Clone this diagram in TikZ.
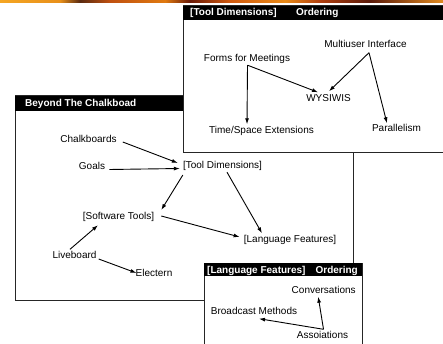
\documentclass[tikz,border=0pt]{standalone}
\usepackage{fontspec}
\setmainfont{Liberation Sans}
\usetikzlibrary{arrows.meta,calc}
\begin{document}
\begin{tikzpicture}[x=1pt,y=-1pt,
  lbl/.style={inner sep=0pt,text height=7pt,text depth=2pt,font=\fontsize{10}{12}\selectfont},
  hdr/.style={inner sep=0pt,text height=7pt,text depth=2pt,anchor=west,text=white,font=\fontsize{10}{12}\selectfont\bfseries},
  frame/.style={draw=black!85,line width=1pt,fill=white},
  bar/.style={fill=black},
  link/.style={draw=black,line width=0.9pt,-{Latex[length=6pt,width=4pt]}}]
\useasboundingbox[fill=white] (0,0) rectangle (443,344);

% fiery strip along the top edge
\shade[left color={rgb,255:red,245;green,166;blue,35},right color={rgb,255:red,232;green,144;blue,26}] (0,0) rectangle (60,3);
\shade[left color={rgb,255:red,232;green,144;blue,26},right color={rgb,255:red,90;green,42;blue,16}] (60,0) rectangle (80,3);
\shade[left color={rgb,255:red,90;green,42;blue,16},right color={rgb,255:red,192;green,80;blue,16}] (80,0) rectangle (110,3);
\shade[left color={rgb,255:red,192;green,80;blue,16},right color={rgb,255:red,224;green,122;blue,16}] (110,0) rectangle (165,3);
\shade[left color={rgb,255:red,224;green,122;blue,16},right color={rgb,255:red,106;green,26;blue,8}] (165,0) rectangle (190,3);
\shade[left color={rgb,255:red,106;green,26;blue,8},right color={rgb,255:red,208;green,90;blue,16}] (190,0) rectangle (230,3);
\shade[left color={rgb,255:red,208;green,90;blue,16},right color={rgb,255:red,232;green,138;blue,24}] (230,0) rectangle (285,3);
\shade[left color={rgb,255:red,232;green,138;blue,24},right color={rgb,255:red,176;green,64;blue,16}] (285,0) rectangle (320,3);
\shade[left color={rgb,255:red,176;green,64;blue,16},right color={rgb,255:red,90;green,26;blue,10}] (320,0) rectangle (370,3);
\shade[left color={rgb,255:red,90;green,26;blue,10},right color={rgb,255:red,224;green,138;blue,32}] (370,0) rectangle (443,3);

% ---- Beyond The Chalkboad ----
\draw[frame] (15,96) rectangle (353,300);
\fill[bar] (15,96) rectangle (183,111);
\node[hdr] (bhead) at (25,104) {Beyond The Chalkboad};

\node[lbl] (ch) at (88.5,140) {Chalkboards};
\node[lbl] (go) at (92,167) {Goals};
\node[lbl] (td) at (222.5,166) {[Tool Dimensions]};
\node[lbl] (sw) at (118.5,217) {[Software Tools]};
\node[lbl] (lf) at (290,240) {[Language Features]};
\node[lbl] (lv) at (74.5,256) {Liveboard};
\node[lbl] (el) at (154,274) {Electern};

\draw[link] ($(ch.east)+(6,2)$) -- ($(td.west)+(-5,-3)$);
\draw[link] ($(go.east)+(4,2.5)$) -- ($(td.west)+(-3,2.5)$);
\draw[link] ($(td.west)+(0,9)$) -- ($(sw.east)+(7,-7)$);
\draw[link] ($(td.south)+(4.5,1.5)$) -- ($(lf.north)+(-28,-2)$);
\draw[link] ($(sw.east)+(7,-1)$) -- ($(lf.west)+(-4,-3)$);
\draw[link] ($(lv.north)+(-4.5,-2)$) -- ($(sw.south)+(-20.5,3.5)$);
\draw[link] ($(lv.east)+(2,3)$) -- ($(el.west)+(1,-1)$);

% ---- [Tool Dimensions] Ordering ----
\draw[frame] (183,6) rectangle (452,153);
\fill[bar] (183,6) rectangle (452,20);
\node[hdr] (thead) at (190,13.5) {[Tool Dimensions]};
\node[hdr] (tord) at (296,13.5) {Ordering};

\node[lbl] (mi) at (365.5,45) {Multiuser Interface};
\node[lbl] (fm) at (247,59) {Forms for Meetings};
\node[lbl] (wy) at (328.5,99) {WYSIWIS};
\node[lbl] (ts) at (261.5,131) {Time/Space Extensions};
\node[lbl] (pa) at (396.5,129) {Parallelism};

\draw[link] ($(fm.south)+(0.5,1.5)$) -- ($(ts.north)+(-14.5,-2)$);
\draw[link] ($(fm.south)+(0.5,1.5)$) -- ($(wy.north)+(-10.5,-2)$);
\draw[link] ($(mi.south)+(3.5,3)$) -- ($(wy.north)+(0.5,-3)$);
\draw[link] ($(mi.south)+(3.5,3)$) -- ($(pa.north)+(-9.5,-1)$);

% ---- [Language Features] Ordering ----
\draw[frame] (204,263) rectangle (362,352);
\fill[bar] (204,263) rectangle (362,276);
\node[hdr] (lhead) at (207,270.5) {[Language Features]};
\node[hdr,anchor=east] (lord) at (358,270.5) {Ordering};

\node[lbl] (co) at (323.7,291) {Conversations};
\node[lbl] (bm) at (254,311.5) {Broadcast Methods};
\node[lbl] (as) at (322.5,336) {Assoiations};

\draw[link] ($(as.north)+(1,-2)$) -- ($(co.south)+(-5.5,1)$);
\draw[link] ($(as.north)+(1,-2)$) -- ($(bm.south)+(5,2.5)$);
\end{tikzpicture}
\end{document}
